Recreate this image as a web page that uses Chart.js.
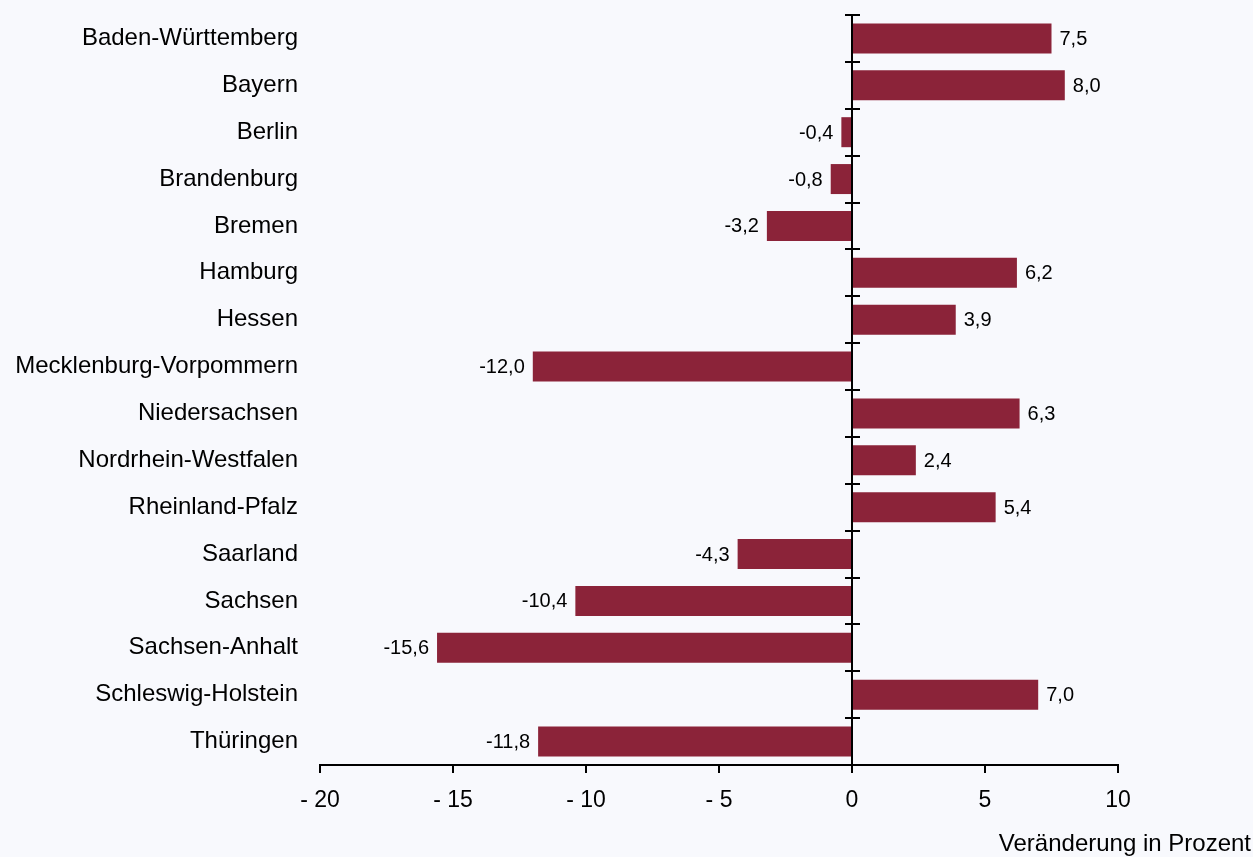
<!DOCTYPE html>
<html>
<head>
<meta charset="utf-8">
<script src="https://cdn.jsdelivr.net/npm/chart.js@4/dist/chart.umd.min.js"></script>
<style>
  html, body { margin: 0; padding: 0; background: #f8f9fd; }
  #wrap { width: 1253px; height: 857px; }
</style>
</head>
<body>
<div id="wrap"><canvas id="chart"></canvas></div>
<script>
const LAENDER = [
  'Baden-Württemberg', 'Bayern', 'Berlin', 'Brandenburg', 'Bremen', 'Hamburg',
  'Hessen', 'Mecklenburg-Vorpommern', 'Niedersachsen', 'Nordrhein-Westfalen',
  'Rheinland-Pfalz', 'Saarland', 'Sachsen', 'Sachsen-Anhalt',
  'Schleswig-Holstein', 'Thüringen'
];
const VERAENDERUNG = [7.5, 8.0, -0.4, -0.8, -3.2, 6.2, 3.9, -12.0, 6.3, 2.4, 5.4, -4.3, -10.4, -15.6, 7.0, -11.8];
const X_MIN = -20, X_MAX = 10, X_STEP = 5;
const AXIS_TITLE = 'Veränderung in Prozent';

const FONT = '"Liberation Sans", Arial, sans-serif';
const BAR_COLOR = '#8b2339';

function fmt(v) {
  return v.toFixed(1).replace('.', ',');
}

// zero line with crossing ticks, value labels and the axis title
const extras = {
  id: 'extras',
  afterDatasetsDraw(chart) {
    const { ctx, chartArea, scales } = chart;
    const x0 = scales.x.getPixelForValue(0);
    const step = scales.y.getPixelForValue(1) - scales.y.getPixelForValue(0);
    ctx.save();
    ctx.strokeStyle = '#000';
    ctx.lineWidth = 2;
    ctx.beginPath();
    ctx.moveTo(x0, chartArea.top);
    ctx.lineTo(x0, chartArea.bottom);
    for (let i = 0; i < LAENDER.length; i++) {
      const y = Math.round(scales.y.getPixelForValue(i) - step / 2);
      ctx.moveTo(x0 - 7, y);
      ctx.lineTo(x0 + 8, y);
    }
    ctx.stroke();

    ctx.fillStyle = '#000';
    ctx.font = '20px ' + FONT;
    ctx.textBaseline = 'middle';
    const meta = chart.getDatasetMeta(0);
    meta.data.forEach((bar, i) => {
      const v = VERAENDERUNG[i];
      if (v >= 0) {
        ctx.textAlign = 'left';
        ctx.fillText(fmt(v), bar.x + 8, bar.y + 1);
      } else {
        ctx.textAlign = 'right';
        ctx.fillText(fmt(v), bar.x - 8, bar.y + 1);
      }
    });

    ctx.font = '24px ' + FONT;
    ctx.textAlign = 'right';
    ctx.fillText(AXIS_TITLE, chart.width - 2, 844);
    ctx.restore();
  }
};

new Chart(document.getElementById('chart'), {
  type: 'bar',
  data: {
    labels: LAENDER,
    datasets: [{
      data: VERAENDERUNG,
      backgroundColor: BAR_COLOR,
      categoryPercentage: 1,
      barPercentage: 0.64
    }]
  },
  options: {
    indexAxis: 'y',
    responsive: true,
    maintainAspectRatio: false,
    animation: false,
    layout: { padding: { top: 15, right: 135, left: 0, bottom: 0 } },
    plugins: { legend: { display: false }, tooltip: { enabled: false } },
    scales: {
      x: {
        min: X_MIN,
        max: X_MAX,
        ticks: {
          stepSize: X_STEP,
          color: '#000',
          padding: 14,
          font: { family: FONT, size: 23 },
          callback: v => v < 0 ? '- ' + Math.abs(v) : String(v)
        },
        grid: { drawOnChartArea: false, drawTicks: true, tickLength: 8, color: '#000', lineWidth: 2 },
        border: { display: true, color: '#000', width: 2 },
        afterFit: s => { s.height = 92; }
      },
      y: {
        ticks: {
          color: '#000',
          padding: 14,
          font: { family: FONT, size: 24 }
        },
        grid: { display: false },
        border: { display: false },
        afterFit: s => { s.width = 320; s.paddingTop = 0; s.paddingBottom = 0; }
      }
    }
  },
  plugins: [extras]
});
</script>
</body>
</html>
